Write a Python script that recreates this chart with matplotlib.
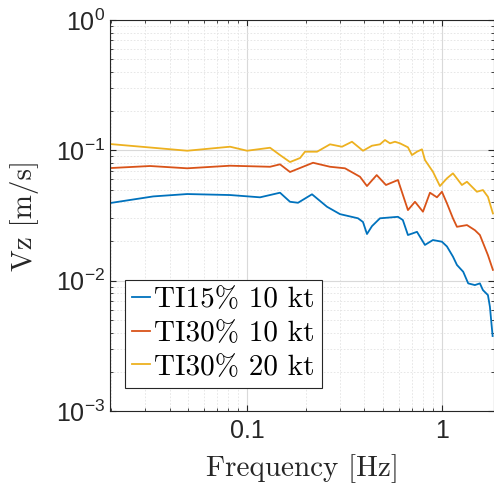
import matplotlib
matplotlib.use("Agg")
import matplotlib.pyplot as plt

# values
freq_ti15_10 = [0.0198, 0.0330, 0.0493, 0.0818, 0.1166, 0.1476, 0.1661, 0.1826, 0.2154,
                0.2572, 0.2998, 0.3709, 0.3934, 0.4124, 0.4375, 0.4809, 0.5947, 0.63,
                0.6692, 0.7446, 0.818, 0.899, 1.0, 1.061, 1.139, 1.194, 1.286, 1.364,
                1.476, 1.566, 1.623, 1.722, 1.763, 1.82]
vz_ti15_10 = [0.0394, 0.0443, 0.0462, 0.0454, 0.0436, 0.0473, 0.0403, 0.0396, 0.0460,
              0.0369, 0.0324, 0.0301, 0.0282, 0.0228, 0.0262, 0.0301, 0.0309, 0.0292,
              0.0224, 0.0237, 0.0188, 0.0205, 0.0199, 0.0183, 0.0153, 0.0132, 0.0117,
              0.00953, 0.00925, 0.00953, 0.00847, 0.00775, 0.0063, 0.00376]

freq_ti30_10 = [0.0198, 0.0318, 0.0493, 0.0818, 0.1312, 0.1476, 0.1661, 0.2181, 0.2665,
                0.3181, 0.3798, 0.4124, 0.4626, 0.5162, 0.5947, 0.6692, 0.7272, 0.7992,
                0.868, 0.9427, 1.0, 1.061, 1.139, 1.194, 1.344, 1.476, 1.566, 1.722, 1.826]
vz_ti30_10 = [0.0731, 0.0758, 0.0728, 0.0762, 0.0748, 0.0781, 0.0682, 0.0803, 0.0748,
              0.0728, 0.0627, 0.0532, 0.0646, 0.0542, 0.0592, 0.0348, 0.0403, 0.0338,
              0.0473, 0.0436, 0.0481, 0.0392, 0.0301, 0.0259, 0.0267, 0.0244, 0.0224,
              0.0157, 0.0121]

freq_ti30_20 = [0.0198, 0.0493, 0.0818, 0.1, 0.1312, 0.1476, 0.1661, 0.1870, 0.1983,
                0.2286, 0.2665, 0.3070, 0.3454, 0.3934, 0.4375, 0.4809, 0.5102, 0.5412,
                0.5741, 0.6089, 0.6692, 0.7018, 0.7446, 0.7898, 0.818, 0.899, 0.9766,
                1.061, 1.139, 1.266, 1.344, 1.512, 1.623, 1.722, 1.826]
vz_ti30_20 = [0.1118, 0.0993, 0.1066, 0.0993, 0.1047, 0.0920, 0.0813, 0.0873, 0.0976,
              0.0976, 0.1112, 0.1066, 0.1164, 0.0993, 0.1085, 0.1112, 0.1200, 0.1132,
              0.1164, 0.1132, 0.1055, 0.0920, 0.0976, 0.1018, 0.0843, 0.0685, 0.0532,
              0.0610, 0.0666, 0.0542, 0.0574, 0.0481, 0.0496, 0.0440, 0.0328]

labels = ["TI15% 10 kt", "TI30% 10 kt", "TI30% 20 kt"]
colors = ["#0072BD", "#D95319", "#EDB120"]

plt.rcParams["mathtext.fontset"] = "custom"
plt.rcParams["mathtext.rm"] = "Liberation Sans"
plt.rcParams["mathtext.default"] = "regular"
plt.rcParams["font.family"] = "Liberation Sans"

fig = plt.figure(figsize=(4.94, 4.90), dpi=100)
ax = fig.add_axes([110 / 494, 1 - 411 / 490, 384 / 494, 391 / 490])

series = [(freq_ti15_10, vz_ti15_10), (freq_ti30_10, vz_ti30_10), (freq_ti30_20, vz_ti30_20)]
for (f, v), lab, c in zip(series, labels, colors):
    ax.loglog(f, v, color=c, lw=1.3, label=lab)

ax.set_xlim(0.0198, 1.85)
ax.set_ylim(1e-3, 1)
ax.set_xticks([0.1, 1], labels=["0.1", "1"])

ax.grid(True, which="major", color="#d9d9d9", lw=0.8, ls="-")
ax.grid(True, which="minor", color="#e3e3e3", lw=0.6, ls=(0, (2, 2)))
ax.set_axisbelow(True)

ax.tick_params(which="both", direction="in", top=True, right=True,
               colors="#262626", labelsize=18)
ax.tick_params(which="major", length=4, width=0.8)
ax.tick_params(which="minor", length=2.5, width=0.6)
ax.tick_params(axis="x", pad=6)
for s in ax.spines.values():
    s.set_color("#262626")
    s.set_linewidth(0.8)

ax.set_xlabel("Frequency [Hz]", family="cmr10", fontsize=21, color="#262626", labelpad=8)
ax.set_ylabel("Vz [m/s]", family="cmr10", fontsize=21, color="#262626", labelpad=12)

leg = ax.legend(loc="lower left", bbox_to_anchor=(0.039, 0.059), borderaxespad=0,
                prop={"family": "cmr10", "size": 21}, fancybox=False, framealpha=1,
                edgecolor="#262626", handlelength=0.6, handletextpad=0.15,
                labelspacing=0.25, borderpad=0.25)
leg.get_frame().set_linewidth(0.8)

fig.savefig("out.png", dpi=100)
